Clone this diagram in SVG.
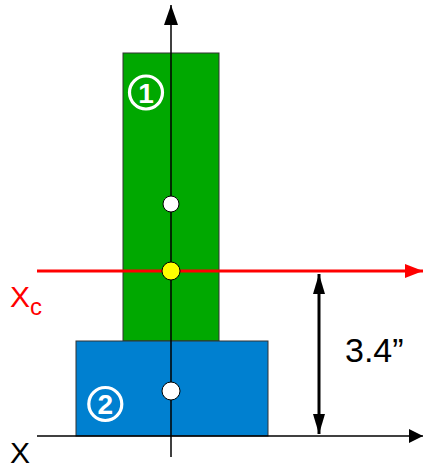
<svg xmlns="http://www.w3.org/2000/svg" width="423" height="470" viewBox="0 0 423 470">
<style>
.lbl{font-family:"Liberation Sans",Arial,sans-serif}
.ring{fill:none;stroke:#fff;stroke-width:3.2}
.num{font-family:"Liberation Sans",Arial,sans-serif;font-weight:bold;fill:#fff;font-size:28px;text-anchor:middle}
.pt{stroke:#000;stroke-width:1}
</style>
<defs>
<marker id="ah" viewBox="0 0 10 10" refX="10" refY="5" markerWidth="14" markerHeight="14" markerUnits="userSpaceOnUse" orient="auto"><path d="M0,0 L10,5 L0,10 z" fill="#000"/></marker>
<marker id="ahR" viewBox="0 0 10 10" refX="10" refY="5" markerWidth="18" markerHeight="14" markerUnits="userSpaceOnUse" orient="auto" preserveAspectRatio="none"><path d="M0,0 L10,5 L0,10 z" fill="#f00"/></marker>
<marker id="ahD" viewBox="0 0 10 10" refX="10" refY="5" markerWidth="20" markerHeight="12" markerUnits="userSpaceOnUse" orient="auto-start-reverse" preserveAspectRatio="none"><path d="M0,0 L10,5 L0,10 z" fill="#000"/></marker>
<marker id="ahV" viewBox="0 0 10 10" refX="10" refY="5" markerWidth="20" markerHeight="14" markerUnits="userSpaceOnUse" orient="auto" preserveAspectRatio="none"><path d="M0,0 L10,5 L0,10 z" fill="#000"/></marker>
</defs>
<g id="part1">
<rect x="123" y="53" width="96" height="288" fill="#00a800" stroke="#333" stroke-width="1"/>
<circle class="ring" cx="146" cy="92.5" r="16.5"/>
<text class="num" x="146" y="102.5">1</text>
</g>
<g id="part2">
<rect x="76" y="341" width="192" height="95" fill="#0080d0" stroke="#333" stroke-width="1"/>
<circle class="ring" cx="105.3" cy="404" r="16.5"/>
<text class="num" x="105.3" y="414">2</text>
</g>
<g id="connectors">
<line x1="37" y1="436" x2="423" y2="436" stroke="#000" stroke-width="1.5" marker-end="url(#ah)"/>
<line x1="171" y1="457" x2="171" y2="5" stroke="#000" stroke-width="1.5" marker-end="url(#ahV)"/>
<line x1="37" y1="271" x2="423" y2="271" stroke="#f00" stroke-width="3" marker-end="url(#ahR)"/>
<line x1="319" y1="274" x2="319" y2="434" stroke="#000" stroke-width="3" marker-start="url(#ahD)" marker-end="url(#ahD)"/>
</g>
<g id="points">
<circle class="pt" cx="171" cy="204" r="8" fill="#fff"/>
<circle class="pt" cx="171" cy="271" r="9" fill="#ff0"/>
<circle class="pt" cx="171" cy="391" r="9" fill="#fff"/>
</g>
<g id="labels">
<text class="lbl" x="10" y="307" font-size="30" fill="#f00">X<tspan font-size="24" dy="8">c</tspan></text>
<text class="lbl" x="10" y="463" font-size="30" fill="#000">X</text>
<text class="lbl" x="345" y="362" font-size="34" fill="#000">3.4”</text>
</g>
</svg>
